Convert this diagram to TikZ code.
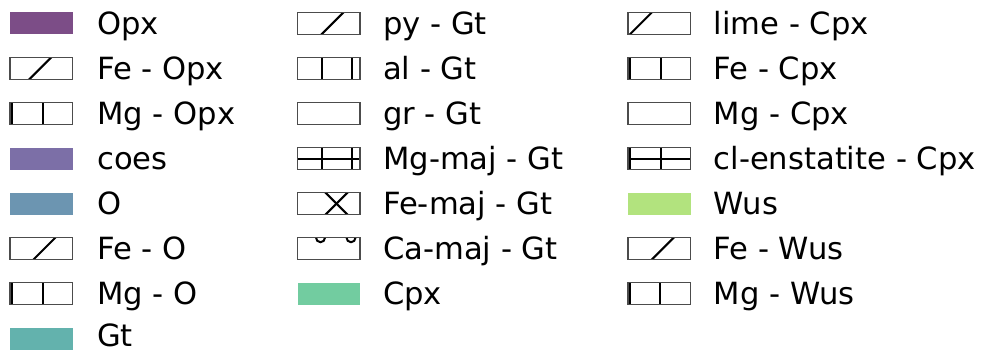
\documentclass[tikz,border=0pt]{standalone}
\usepackage{fontspec}
\setmainfont{DejaVu Sans}
\usepackage{xcolor}
\usepackage{tikz}
\definecolor{opxcol}{RGB}{124,77,135}
\definecolor{coescol}{RGB}{124,111,167}
\definecolor{ocol}{RGB}{108,149,177}
\definecolor{gtcol}{RGB}{99,178,173}
\definecolor{cpxcol}{RGB}{114,204,160}
\definecolor{wuscol}{RGB}{178,227,126}

\tikzset{
    swatch/.style={minimum width=62.5pt, minimum height=22pt, inner sep=0pt, outer sep=0pt},
    plain/.style={swatch, draw=black!70, line width=1.3pt, fill=white},
    hatchline/.style={black, line width=2pt},
    slash/.style={plain, path picture={
        \draw[hatchline] ([xshift=#1]path picture bounding box.south west) ++(-4pt,-4pt) -- ++(32pt,32pt);}},
    cross/.style={plain, path picture={
        \draw[hatchline] ([xshift=#1]path picture bounding box.south west) ++(-4pt,-4pt) -- ++(32pt,32pt);
        \draw[hatchline] ([xshift=#1]path picture bounding box.north west) ++(-4pt,4pt) -- ++(32pt,-32pt);}},
    vbars/.style={plain, path picture={
        \foreach \x in {#1}
            \draw[hatchline] ([xshift=\x]path picture bounding box.south west) -- ([xshift=\x]path picture bounding box.north west);}},
    grid/.style={plain, path picture={
        \foreach \x in {#1}
            \draw[hatchline] ([xshift=\x]path picture bounding box.south west) -- ([xshift=\x]path picture bounding box.north west);
        \draw[hatchline] (path picture bounding box.west) -- (path picture bounding box.east);}},
    rings/.style={plain, path picture={
        \foreach \x in {#1}
            \draw[hatchline] ([xshift=\x]path picture bounding box.north west) circle[radius=4.5pt];}},
    entry/.style={anchor=base west, inner sep=0pt, font=\fontsize{30.6}{36}\selectfont}
}

\begin{document}
\begin{tikzpicture}[x=1pt, y=-1pt]
    \useasboundingbox (0,0) rectangle (986,351);

    % first column
    \node[swatch, fill=opxcol] (p-opx) at (41.25,23.2) {};
    \node[slash=19.3pt] (p-feopx) at (41.25,68.3) {};
    \node[vbars={2pt,32.7pt}] (p-mgopx) at (41.25,113.4) {};
    \node[swatch, fill=coescol] (p-coes) at (41.25,158.5) {};
    \node[swatch, fill=ocol] (p-o) at (41.25,203.6) {};
    \node[slash=23.3pt] (p-feo) at (41.25,248.7) {};
    \node[vbars={2pt,32.7pt}] (p-mgo) at (41.25,293.8) {};
    \node[swatch, fill=gtcol] (p-gt) at (41.25,338.9) {};

    \node[entry] (t-opx) at ([xshift=24.5pt, yshift=-11pt]p-opx.east) {Opx};
    \node[entry] (t-feopx) at ([xshift=24.5pt, yshift=-11pt]p-feopx.east) {Fe - Opx};
    \node[entry] (t-mgopx) at ([xshift=24.5pt, yshift=-11pt]p-mgopx.east) {Mg - Opx};
    \node[entry] (t-coes) at ([xshift=24.5pt, yshift=-11pt]p-coes.east) {coes};
    \node[entry] (t-o) at ([xshift=24.5pt, yshift=-11pt]p-o.east) {O};
    \node[entry] (t-feo) at ([xshift=24.5pt, yshift=-11pt]p-feo.east) {Fe - O};
    \node[entry] (t-mgo) at ([xshift=24.5pt, yshift=-11pt]p-mgo.east) {Mg - O};
    \node[entry] (t-gt) at ([xshift=24.5pt, yshift=-7.5pt]p-gt.east) {Gt};

    % second column
    \node[slash=24.2pt] (p-pygt) at (328.75,23.2) {};
    \node[vbars={24.2pt,54.8pt}] (p-algt) at (328.75,68.3) {};
    \node[plain] (p-grgt) at (328.75,113.4) {};
    \node[grid={24.2pt,54.8pt}] (p-mgmaj) at (328.75,158.5) {};
    \node[cross=28pt] (p-femaj) at (328.75,203.6) {};
    \node[rings={23pt,53.5pt}] (p-camaj) at (328.75,248.7) {};
    \node[swatch, fill=cpxcol] (p-cpx) at (328.75,293.8) {};

    \node[entry] (t-pygt) at ([xshift=23pt, yshift=-11pt]p-pygt.east) {py - Gt};
    \node[entry] (t-algt) at ([xshift=23pt, yshift=-11pt]p-algt.east) {al - Gt};
    \node[entry] (t-grgt) at ([xshift=23pt, yshift=-11pt]p-grgt.east) {gr - Gt};
    \node[entry] (t-mgmaj) at ([xshift=23pt, yshift=-11pt]p-mgmaj.east) {Mg-maj - Gt};
    \node[entry] (t-femaj) at ([xshift=23pt, yshift=-11pt]p-femaj.east) {Fe-maj - Gt};
    \node[entry] (t-camaj) at ([xshift=23pt, yshift=-11pt]p-camaj.east) {Ca-maj - Gt};
    \node[entry] (t-cpx) at ([xshift=23pt, yshift=-11pt]p-cpx.east) {Cpx};

    % third column
    \node[slash=2pt] (p-limecpx) at (659.25,23.2) {};
    \node[vbars={2.3pt,33.3pt}] (p-fecpx) at (659.25,68.3) {};
    \node[plain] (p-mgcpx) at (659.25,113.4) {};
    \node[grid={2.3pt,33.3pt}] (p-clen) at (659.25,158.5) {};
    \node[swatch, fill=wuscol] (p-wus) at (659.25,203.6) {};
    \node[slash=23.7pt] (p-fewus) at (659.25,248.7) {};
    \node[vbars={2.3pt,32pt}] (p-mgwus) at (659.25,293.8) {};

    \node[entry] (t-limecpx) at ([xshift=23pt, yshift=-11pt]p-limecpx.east) {lime - Cpx};
    \node[entry] (t-fecpx) at ([xshift=23pt, yshift=-11pt]p-fecpx.east) {Fe - Cpx};
    \node[entry] (t-mgcpx) at ([xshift=23pt, yshift=-11pt]p-mgcpx.east) {Mg - Cpx};
    \node[entry] (t-clen) at ([xshift=23pt, yshift=-11pt]p-clen.east) {cl-enstatite - Cpx};
    \node[entry] (t-wus) at ([xshift=23pt, yshift=-11pt]p-wus.east) {Wus};
    \node[entry] (t-fewus) at ([xshift=23pt, yshift=-11pt]p-fewus.east) {Fe - Wus};
    \node[entry] (t-mgwus) at ([xshift=23pt, yshift=-11pt]p-mgwus.east) {Mg - Wus};
\end{tikzpicture}
\end{document}
